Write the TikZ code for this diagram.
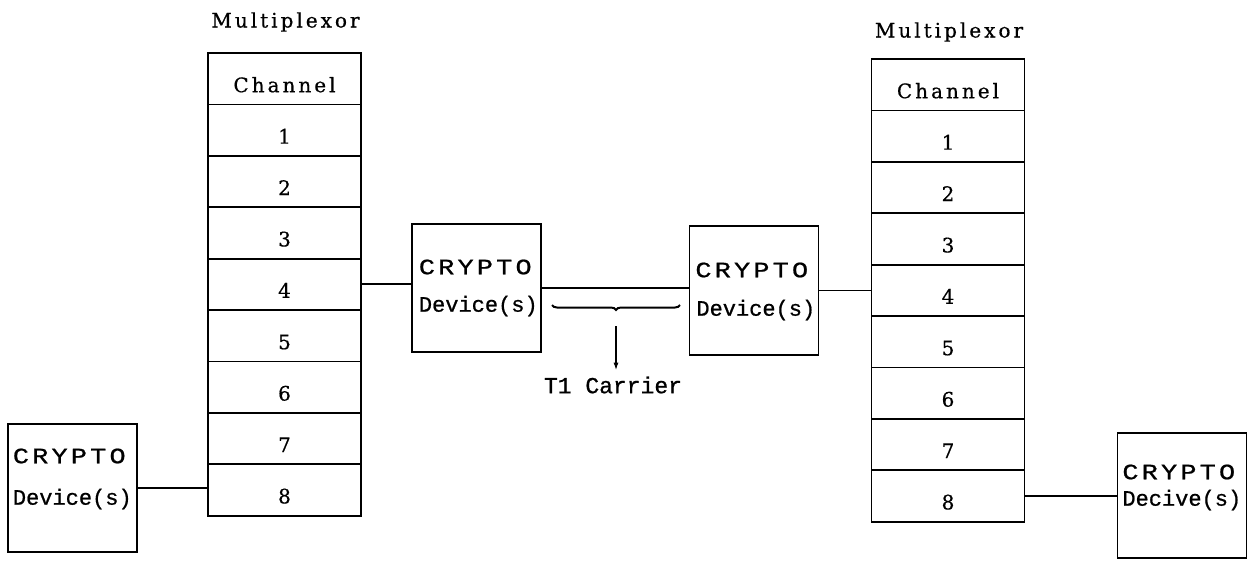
\documentclass[tikz,border=0pt]{standalone}
\usepackage{fontspec}
\usetikzlibrary{positioning,calc,decorations.pathreplacing,arrows.meta}
\newfontfamily\serfont[LetterSpace=15,FakeBold=0.6]{DejaVu Serif}
\newfontfamily\twfont[FakeBold=0.8]{Liberation Mono}
\newfontfamily\twwide[LetterSpace=12,FakeBold=0.8]{Liberation Mono}
\newcommand{\widecaps}[1]{\scalebox{1.22}[1]{#1}}
\begin{document}
\begin{tikzpicture}[x=1pt,y=-1pt,
  line width=1.8pt,
  muxrow/.style={draw, minimum width=153pt, minimum height=51.4pt, inner sep=0pt, outer sep=0pt,
    text height=27pt, text depth=0pt, font=\serfont\fontsize{20}{22}\selectfont},
  muxlabel/.style={inner sep=0pt, font=\serfont\fontsize{20}{22}\selectfont},
  cbox/.style={draw, minimum width=129pt, minimum height=128pt, inner sep=0pt, outer sep=0pt},
  ctext/.style={anchor=west, inner sep=0pt, font=\twfont\fontsize{22}{24}\selectfont},
  cwide/.style={anchor=west, inner sep=0pt, font=\twwide\fontsize{22}{24}\selectfont},
]
\useasboundingbox (0,0) rectangle (1252,560);

% left multiplexor
\node[muxlabel] (mlL) at (285.5,22) {Multiplexor};
\node[muxrow, anchor=north] (L0) at (284.5,53) {Channel};
\foreach \i [count=\p from 0] in {1,...,8}
  \node[muxrow, below=0pt of L\p] (L\i) {\i};

% right multiplexor
\node[muxlabel] (mlR) at (949,32) {Multiplexor};
\node[muxrow, anchor=north] (R0) at (948,59) {Channel};
\foreach \i [count=\p from 0] in {1,...,8}
  \node[muxrow, below=0pt of R\p] (R\i) {\i};

% crypto boxes
\node[cbox] (cl) at (72.5,488) {};
\node[cwide] (clA) at ($(cl.north west)+(4,32)$) {\widecaps{CRYPTO}};
\node[ctext] (clB) at ($(cl.north west)+(4,75)$) {Device(s)};

\node[cbox] (cm1) at (476.5,288) {};
\node[cwide] (cm1A) at ($(cm1.north west)+(6,43)$) {\widecaps{CRYPTO}};
\node[ctext] (cm1B) at ($(cm1.north west)+(6,82)$) {Device(s)};

\node[cbox, minimum height=129pt] (cm2) at (754,290.5) {};
\node[cwide] (cm2A) at ($(cm2.north west)+(5,44)$) {\widecaps{CRYPTO}};
\node[ctext] (cm2B) at ($(cm2.north west)+(6,84)$) {Device(s)};

\node[cbox, minimum height=125pt] (cr) at (1182,495.5) {};
\node[cwide] (crA) at ($(cr.north west)+(4,39)$) {\widecaps{CRYPTO}};
\node[ctext] (crB) at ($(cr.north west)+(4,67)$) {Decive(s)};

% connectors
\draw (L4.east) -- (L4.east -| cm1.west);
\draw (cm1.east) -- (cm1.east -| cm2.west);
\draw (cm2.east) -- (cm2.east -| R4.west);
\draw (cl.east) -- (cl.east -| L8.west);
\draw (R8.east) -- (R8.east -| cr.west);

% T1 carrier brace and arrow
\coordinate (bl) at (552,305);
\coordinate (br) at (680,305);
\draw[line width=2pt, decorate, decoration={brace, amplitude=5pt}] (br) -- (bl);
\coordinate (as) at (616,326);
\node[inner sep=0pt, font=\twfont\fontsize{23}{25}\selectfont] (t1) at (613,385) {T1 Carrier};
\draw[line width=1.8pt, -{Latex[length=8pt,width=5pt]}] (as) -- ($(t1.north)+(3,-5)$);
\end{tikzpicture}
\end{document}
